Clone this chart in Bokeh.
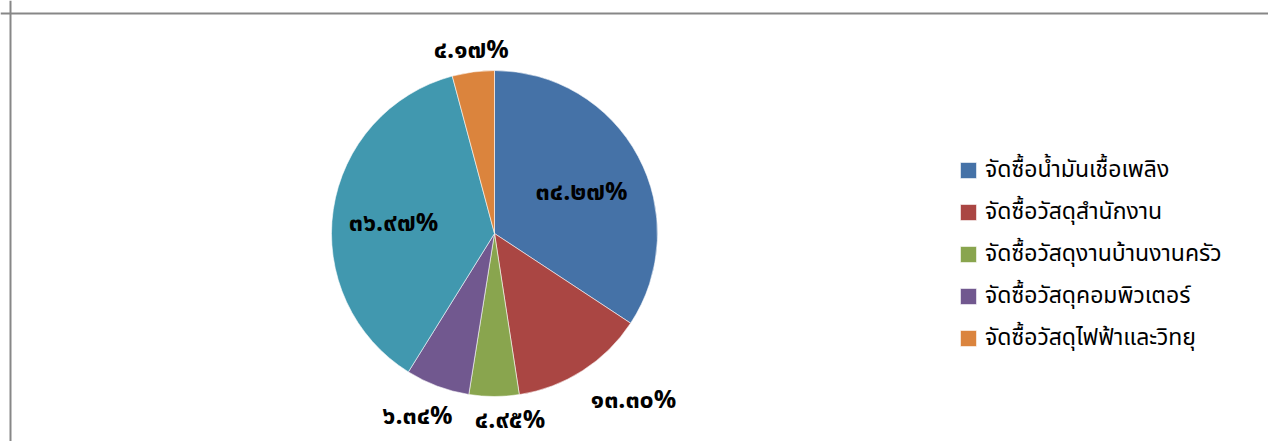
import math
from bokeh.plotting import figure
from bokeh.models import Range1d, ColumnDataSource, Span, Legend, LegendItem
from bokeh.core.properties import value
from bokeh.embed import file_html
from bokeh.resources import INLINE

# ---- data ----
categories = [
    "จัดซื้อน้ำมันเชื้อเพลิง",
    "จัดซื้อวัสดุสำนักงาน",
    "จัดซื้อวัสดุงานบ้านงานครัว",
    "จัดซื้อวัสดุคอมพิวเตอร์",
    "จัดซื้อวัสดุอื่นๆ",
    "จัดซื้อวัสดุไฟฟ้าและวิทยุ",
]
percents = [34.27, 13.30, 4.95, 6.34, 36.97, 4.17]
colors = ["#4572A7", "#AA4643", "#89A54E", "#71588F", "#4198AF", "#DB843D"]
legend_indices = [0, 1, 2, 3, 5]

# ---- layout / style ----
W, H = 1268, 441
CX, CY = 494, 233          # pie centre in canvas px (y down)
R = 163
label_r = [0.60, 1.0, 1.0, 1.0, 0.62, 1.0]
label_dx = [1, 51, 16, -20, -1, -2]
label_dy = [5, 29, 24, 30, 4, -22]
FONT = "Noto Sans Thai, Noto Sans, sans-serif"

thai_digits = str.maketrans("0123456789", "๐๑๒๓๔๕๖๗๘๙")
labels = [f"{v:.2f}%".translate(thai_digits) for v in percents]

total = sum(percents)
starts, ends, mids = [], [], []
cum = 0.0
for v in percents:
    a0 = math.pi / 2 - 2 * math.pi * cum / total
    cum += v
    a1 = math.pi / 2 - 2 * math.pi * cum / total
    starts.append(a0)
    ends.append(a1)
    mids.append((a0 + a1) / 2)

src = ColumnDataSource(dict(
    x=[CX] * len(percents), y=[H - CY] * len(percents),
    start=starts, end=ends, color=colors, cat=categories,
))

p = figure(width=W, height=H, x_range=Range1d(0, W), y_range=Range1d(0, H),
           min_border=0, toolbar_location=None, output_backend="svg",
           x_axis_location=None, y_axis_location=None)
p.grid.visible = False
p.outline_line_color = None

r = p.wedge(x="x", y="y", radius=R, start_angle="start", end_angle="end",
            direction="clock", fill_color="color", line_color="white",
            line_width=0.8, line_alpha=0.7, source=src)

lx, ly = [], []
for i, m in enumerate(mids):
    rr = R * label_r[i]
    lx.append(CX + rr * math.cos(m) + label_dx[i])
    ly.append(H - (CY - rr * math.sin(m) + label_dy[i]))
lsrc = ColumnDataSource(dict(x=lx, y=ly, t=labels))
p.text(x="x", y="y", text="t", source=lsrc, text_align="center",
       text_baseline="middle", text_font=value(FONT), text_font_size="25px",
       text_font_style="bold", text_color="#000000")

# chart-area border (top & left visible)
p.add_layout(Span(location=H - 13, dimension="width", line_color="#878787", line_width=2))
p.add_layout(Span(location=10, dimension="height", line_color="#878787", line_width=2))

items = [LegendItem(label=categories[i], renderers=[r], index=i) for i in legend_indices]
legend = Legend(items=items, location=(958, 86), glyph_width=20, glyph_height=20,
                label_height=20, spacing=8, label_standoff=7, padding=0, margin=0,
                border_line_color=None, background_fill_alpha=0,
                label_text_font=FONT, label_text_font_size="23px",
                label_text_color="#000000")
p.add_layout(legend)

open("out.html", "w").write(file_html(p, INLINE))
